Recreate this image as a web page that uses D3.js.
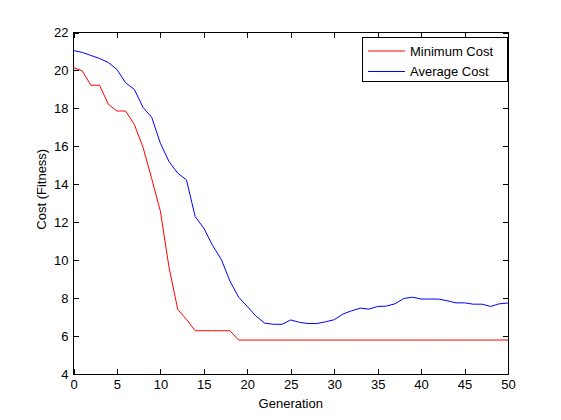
<!DOCTYPE html>
<html>
<head>
<meta charset="utf-8">
<script src="https://cdn.jsdelivr.net/npm/d3@7"></script>
<style>
  body { margin: 0; background: #fff; }
  svg text { font-family: "Liberation Sans", Arial, sans-serif; font-size: 13px; fill: #000; }
</style>
</head>
<body>
<div id="chart"></div>
<script>
// generations 0..50
const generations = d3.range(0, 51);

const minCost = [
    20.15, 19.98, 19.22, 19.22, 18.22, 17.86, 17.86, 17.15, 15.95, 14.3,
    12.58, 9.6, 7.4, 6.88, 6.28, 6.28, 6.28, 6.28, 6.28, 5.79,
    5.79, 5.79, 5.79, 5.79, 5.79, 5.79, 5.79, 5.79, 5.79, 5.79,
    5.79, 5.79, 5.79, 5.79, 5.79, 5.79, 5.79, 5.79, 5.79, 5.79,
    5.79, 5.79, 5.79, 5.79, 5.79, 5.79, 5.79, 5.79, 5.79, 5.79,
    5.79
];

const avgCost = [
    21.05, 20.95, 20.79, 20.63, 20.42, 20.05, 19.35, 19.0, 18.05, 17.53,
    16.16, 15.19, 14.58, 14.23, 12.3, 11.68, 10.78, 10.05, 8.9, 8.05,
    7.56, 7.05, 6.68, 6.62, 6.62, 6.85, 6.72, 6.66, 6.66, 6.75,
    6.86, 7.16, 7.33, 7.47, 7.42, 7.56, 7.58, 7.7, 7.98, 8.05,
    7.95, 7.95, 7.95, 7.86, 7.75, 7.75, 7.68, 7.68, 7.56, 7.7,
    7.74
];

const xTicks = [0, 5, 10, 15, 20, 25, 30, 35, 40, 45, 50];
const yTicks = [4, 6, 8, 10, 12, 14, 16, 18, 20, 22];
const seriesNames = ["Minimum Cost", "Average Cost"];
const seriesColors = ["#ff0000", "#0000ff"];

const margin = {top: 32.5, right: 53, bottom: 46, left: 73.5};
const width = 561 - margin.left - margin.right,
    height = 420 - margin.top - margin.bottom;

const svg = d3.select("#chart").append("svg")
    .attr("width", 561)
    .attr("height", 420)
    .append("g")
    .attr("transform", "translate(" + margin.left + "," + margin.top + ")");

const x = d3.scaleLinear().domain([0, 50]).range([0, width]);
const y = d3.scaleLinear().domain([4, 22]).range([height, 0]);

// axes, ticks pointing inwards like matlab
svg.append("g")
    .attr("transform", "translate(0," + height + ")")
    .call(d3.axisBottom(x).tickValues(xTicks).tickSizeInner(-5).tickSizeOuter(0).tickPadding(6));

svg.append("g")
    .call(d3.axisTop(x).tickValues(xTicks).tickSizeInner(-5).tickSizeOuter(0).tickFormat(""));

svg.append("g")
    .call(d3.axisLeft(y).tickValues(yTicks).tickSizeInner(-5).tickSizeOuter(0).tickPadding(5));

svg.append("g")
    .attr("transform", "translate(" + width + ",0)")
    .call(d3.axisRight(y).tickValues(yTicks).tickSizeInner(-5).tickSizeOuter(0).tickFormat(""));

svg.selectAll(".domain").remove();
svg.selectAll(".tick line").attr("stroke", "#000").attr("shape-rendering", "crispEdges");
svg.selectAll(".tick text").style("font-size", "13px").attr("fill", "#000");

svg.append("rect")
    .attr("width", width)
    .attr("height", height)
    .attr("fill", "none")
    .attr("stroke", "#000")
    .attr("shape-rendering", "crispEdges");

// lines
const line = d3.line()
    .x((d, i) => x(generations[i]))
    .y(d => y(d));

[minCost, avgCost].forEach((s, i) => {
    svg.append("path")
        .datum(s)
        .attr("fill", "none")
        .attr("stroke", seriesColors[i])
        .attr("stroke-width", 1)
        .attr("d", line);
});

// axis titles
svg.append("text")
    .attr("x", width / 2)
    .attr("y", height + 34)
    .attr("text-anchor", "middle")
    .text("Generation");

svg.append("text")
    .attr("transform", "rotate(-90)")
    .attr("x", -height / 2 + 14)
    .attr("y", -28)
    .attr("text-anchor", "middle")
    .text("Cost (Fitness)");

// legend
const legend = svg.append("g")
    .attr("transform", "translate(" + (width - 146) + ",5)");

legend.append("rect")
    .attr("width", 145)
    .attr("height", 44)
    .attr("fill", "#fff")
    .attr("stroke", "#000")
    .attr("shape-rendering", "crispEdges");

seriesNames.forEach((name, i) => {
    legend.append("line")
        .attr("x1", 6)
        .attr("x2", 43)
        .attr("y1", 13.5 + i * 20.5)
        .attr("y2", 13.5 + i * 20.5)
        .attr("stroke", seriesColors[i]);
    legend.append("text")
        .attr("x", 48)
        .attr("y", 18 + i * 20.5)
        .text(name);
});
</script>
</body>
</html>
